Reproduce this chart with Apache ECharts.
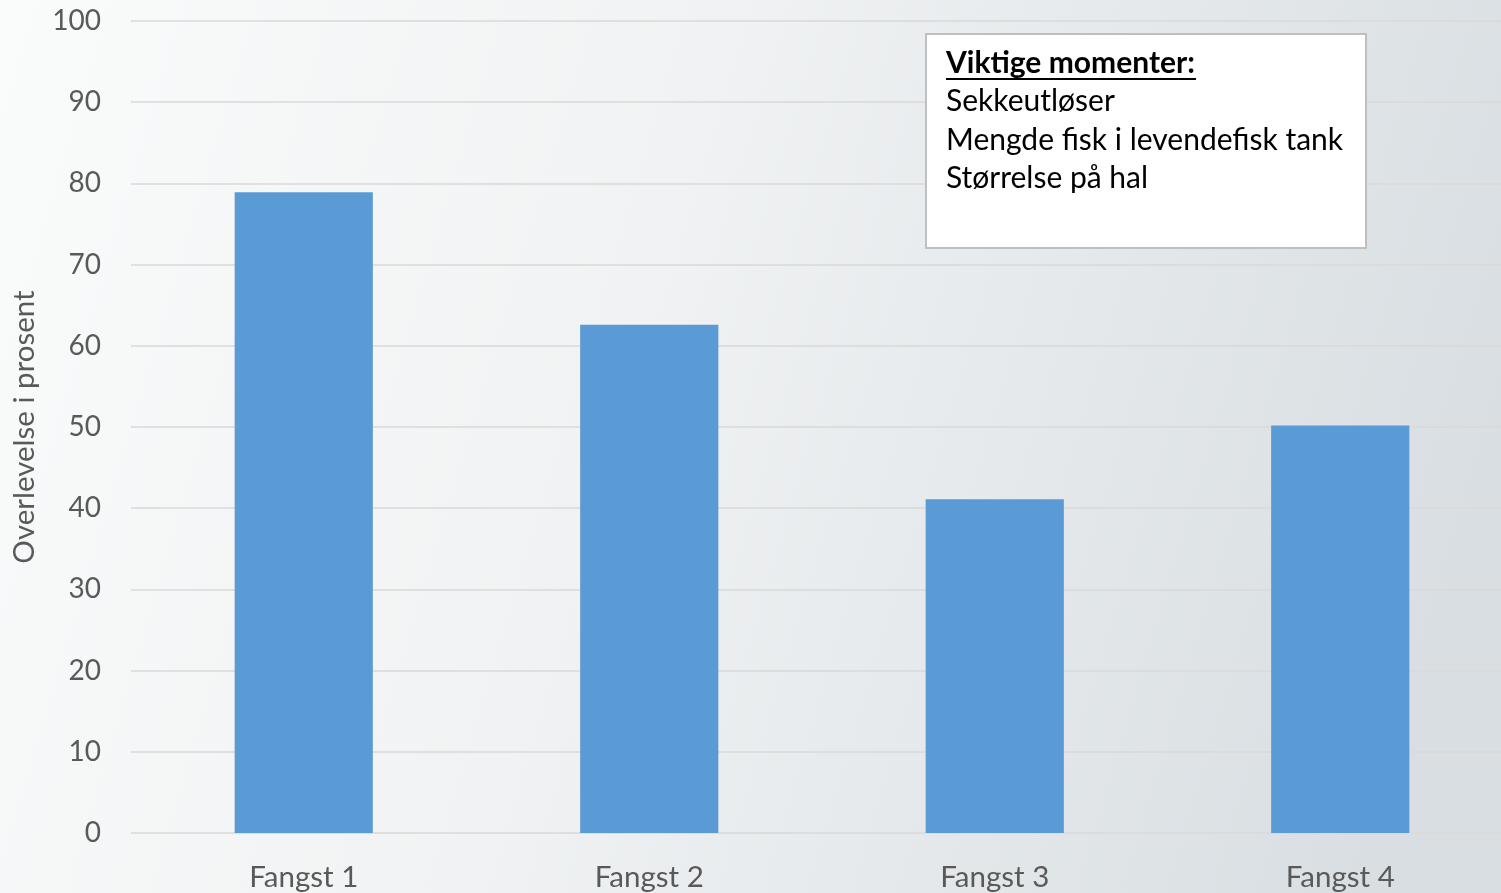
<!DOCTYPE html>
<html>
<head>
<meta charset="utf-8">
<script src="https://cdn.jsdelivr.net/npm/echarts@6/dist/echarts.min.js"></script>
<style>
html,body{margin:0;padding:0;}
#chart{width:1501px;height:893px;}
</style>
</head>
<body>
<div id="chart"></div>
<script>
const categories = ['Fangst 1', 'Fangst 2', 'Fangst 3', 'Fangst 4'];
const survival = [78.9, 62.6, 41.1, 50.2];
const yTicks = [0, 10, 20, 30, 40, 50, 60, 70, 80, 90, 100];
const yAxisTitle = 'Overlevelse i prosent';
const noteTitle = 'Viktige momenter:';
const noteLines = ['Sekkeutløser', 'Mengde fisk i levendefisk tank', 'Størrelse på hal'];

const FONT = 'Lato, "Open Sans", sans-serif';
const chart = echarts.init(document.getElementById('chart'), null, {renderer: 'canvas'});

chart.setOption({
  animation: false,
  backgroundColor: {
    type: 'linear', x: 0, y: 0, x2: 1, y2: 0.5,
    colorStops: [
      {offset: 0, color: '#fafbfb'},
      {offset: 0.45, color: '#f0f2f3'},
      {offset: 1, color: '#d8dee2'}
    ]
  },
  grid: {left: 131, right: -12, top: 21, bottom: 60, containLabel: false, outerBoundsMode: 'none'},
  xAxis: {
    type: 'category',
    data: categories,
    axisLine: {show: false},
    axisTick: {show: false},
    axisLabel: {color: '#595959', fontSize: 29.5, fontFamily: FONT, margin: 29}
  },
  yAxis: {
    type: 'value',
    min: yTicks[0], max: yTicks[yTicks.length - 1], interval: 10,
    name: yAxisTitle,
    nameLocation: 'middle',
    nameGap: 92,
    nameTextStyle: {color: '#595959', fontSize: 29.5, fontFamily: FONT},
    axisLine: {show: false},
    axisTick: {show: false},
    splitLine: {lineStyle: {color: '#d9d9d9', width: 1.5}},
    axisLabel: {color: '#595959', fontSize: 28, fontFamily: FONT, margin: 30}
  },
  series: [{
    type: 'bar',
    data: survival,
    barWidth: '40%',
    itemStyle: {color: '#5b9bd5'}
  }],
  graphic: [{
    type: 'group',
    left: 925, top: 33,
    z: 100,
    children: [
      {type: 'rect', z: 100, shape: {x: 0, y: 0, width: 440, height: 214},
       style: {fill: '#ffffff', stroke: '#bfbfbf', lineWidth: 2}},
      {type: 'text', z: 101, x: 20, y: 10,
       style: {
         text: '{t|' + noteTitle + '}\n' + noteLines.map(l => '{l|' + l + '}').join('\n'),
         rich: {
           t: {fontSize: 30, fontWeight: 'bold', fill: '#000', fontFamily: FONT, lineHeight: 38.5},
           l: {fontSize: 30, fill: '#000', fontFamily: FONT, lineHeight: 38.5}
         }
       }},
      {type: 'line', z: 101, shape: {x1: 20, y1: 45, x2: 270, y2: 45},
       style: {stroke: '#000', lineWidth: 2}}
    ]
  }]
});
</script>
</body>
</html>
